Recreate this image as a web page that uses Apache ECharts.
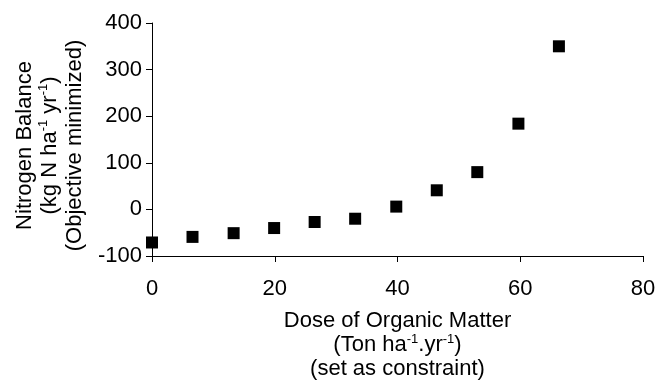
<!DOCTYPE html>
<html>
<head>
<meta charset="utf-8">
<script src="https://cdn.jsdelivr.net/npm/echarts@6/dist/echarts.min.js"></script>
<style>
  html, body { margin: 0; padding: 0; background: #fff; }
  #chart { width: 669px; height: 382px; }
</style>
</head>
<body>
<div id="chart"></div>
<script>
// dose of organic matter (Ton ha-1 yr-1)
var dose = [0, 6.6, 13.3, 19.9, 26.5, 33.1, 39.8, 46.4, 53.0, 59.7, 66.3];
// nitrogen balance (kg N ha-1 yr-1)
var nBalance = [-71, -59, -51, -40, -27, -20, 6, 41, 80, 184, 350];
var xTicks = [0, 20, 40, 60, 80];
var yTicks = [-100, 0, 100, 200, 300, 400];

var pts = [];
for (var i = 0; i < dose.length; i++) {
  pts.push([dose[i], nBalance[i]]);
}

var font = 'Arial, "Liberation Sans", sans-serif';
var chart = echarts.init(document.getElementById('chart'), null, {renderer: 'canvas'});
chart.setOption({
  animation: false,
  backgroundColor: '#ffffff',
  grid: { left: 152, right: 26, top: 23, bottom: 126, containLabel: false, outerBoundsMode: 'none' },
  xAxis: {
    type: 'value',
    min: xTicks[0],
    max: xTicks[xTicks.length - 1],
    interval: 20,
    splitLine: { show: false },
    axisLine: { onZero: false, lineStyle: { color: '#000', width: 1 } },
    axisTick: { show: true, length: 6, inside: false, lineStyle: { color: '#000' } },
    axisLabel: { color: '#000', fontSize: 22, fontFamily: font, margin: 22 },
    name: 'Dose of Organic Matter\n(Ton ha{s|-1}.yr{s|-1})\n(set as constraint)',
    nameLocation: 'middle',
    nameGap: 53,
    nameTextStyle: {
      color: '#000', fontSize: 22, fontFamily: font, lineHeight: 24,
      rich: { s: { fontSize: 13, fontFamily: font, color: '#000', verticalAlign: 'top', lineHeight: 24 } }
    }
  },
  yAxis: {
    type: 'value',
    min: yTicks[0],
    max: yTicks[yTicks.length - 1],
    interval: 100,
    splitLine: { show: false },
    axisLine: { show: true, onZero: false, lineStyle: { color: '#000', width: 1 } },
    axisTick: { show: true, length: 6, lineStyle: { color: '#000' } },
    axisLabel: { color: '#000', fontSize: 22, fontFamily: font, margin: 10 },
    name: 'Nitrogen Balance\n(kg N ha{s|-1} yr{s|-1})\n(Objective minimized)',
    nameLocation: 'middle',
    nameRotate: 90,
    nameGap: 58,
    nameTextStyle: {
      color: '#000', fontSize: 22, fontFamily: font, lineHeight: 25,
      padding: [0, 12, 0, 0],
      rich: { s: { fontSize: 13, fontFamily: font, color: '#000', verticalAlign: 'top', lineHeight: 25 } }
    }
  },
  series: [{
    type: 'scatter',
    symbol: 'rect',
    symbolSize: 12,
    itemStyle: { color: '#000', opacity: 1 },
    data: pts
  }]
});
</script>
</body>
</html>
